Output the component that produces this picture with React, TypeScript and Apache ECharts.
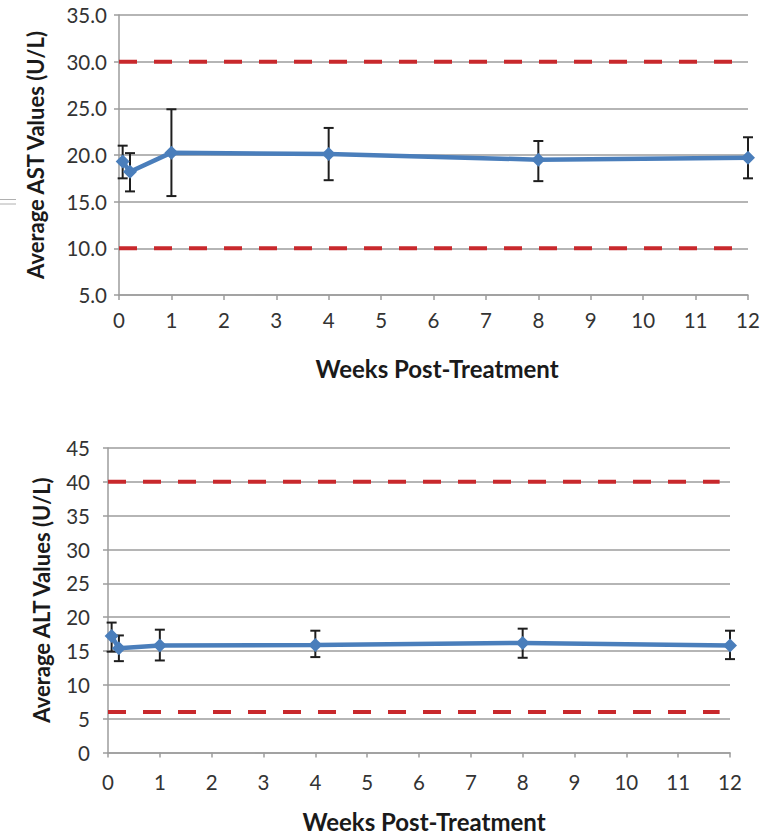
import React, { useEffect, useRef } from 'react';
import * as echarts from 'echarts';

// Weeks post-treatment for each measurement
const weeks = [0.07, 0.21, 1, 4, 8, 12];
// AST (top chart)
const astMean = [19.3, 18.2, 20.25, 20.1, 19.5, 19.7];
const astLow = [17.5, 16.1, 15.6, 17.3, 17.2, 17.5];
const astHigh = [21.0, 20.2, 24.9, 22.9, 21.5, 21.9];
// ALT (bottom chart)
const altMean = [17.2, 15.4, 15.8, 15.9, 16.2, 15.8];
const altLow = [14.9, 13.5, 13.6, 14.1, 14.0, 13.8];
const altHigh = [19.2, 17.3, 18.15, 18.0, 18.3, 18.0];
// Normal-range reference lines
const astRefLines = [30, 10];
const altRefLines = [40, 6];
const astRefSpan = [0, 12];
const altRefSpan = [0, 11.8];
// Axis ticks
const xTicks = { min: 0, max: 12, interval: 1 };
const astTicks = { min: 5, max: 35, interval: 5 };
const altTicks = { min: 0, max: 45, interval: 5 };

const GREY = '#9d9d9d';
const RED = '#c8282c';
const BLUE = '#4a7ebb';
const LABEL = '#333333';
const FONT = 'Lato';

function errorSeries(xAxisIndex: number, low: number[], high: number[]) {
  return {
    type: 'custom',
    xAxisIndex,
    yAxisIndex: xAxisIndex,
    z: 3,
    encode: { x: 0, y: [1, 2] },
    data: weeks.map((w, i) => [w, low[i], high[i]]),
    renderItem: (params: any, api: any) => {
      const x = api.value(0);
      const pLo = api.coord([x, api.value(1)]);
      const pHi = api.coord([x, api.value(2)]);
      const w = 5;
      const style = { stroke: '#1e1e1e', lineWidth: 2 };
      return {
        type: 'group',
        children: [
          { type: 'line', shape: { x1: pLo[0], y1: pLo[1], x2: pHi[0], y2: pHi[1] }, style },
          { type: 'line', shape: { x1: pLo[0] - w, y1: pLo[1], x2: pLo[0] + w, y2: pLo[1] }, style },
          { type: 'line', shape: { x1: pHi[0] - w, y1: pHi[1], x2: pHi[0] + w, y2: pHi[1] }, style },
        ],
      };
    },
  };
}

function refSeries(idx: number, values: number[], span: number[]) {
  return values.map((v) => ({
    type: 'line',
    xAxisIndex: idx,
    yAxisIndex: idx,
    z: 2,
    symbol: 'none',
    silent: true,
    data: span.map((s) => [s, v]),
    lineStyle: { color: RED, width: 4, type: [18, 17] },
  }));
}

function meanSeries(idx: number, mean: number[]) {
  return {
    type: 'line',
    xAxisIndex: idx,
    yAxisIndex: idx,
    z: 4,
    symbol: 'diamond',
    symbolSize: 14,
    data: weeks.map((w, i) => [w, mean[i]]),
    itemStyle: { color: BLUE },
    lineStyle: { color: BLUE, width: 4.5 },
  };
}

function xAxis(idx: number, margin: number) {
  return {
    type: 'value',
    gridIndex: idx,
    ...xTicks,
    axisLine: { show: true, lineStyle: { color: GREY, width: 1.5 } },
    axisTick: { show: true, length: 5, lineStyle: { color: GREY, width: 1.5 } },
    axisLabel: { fontFamily: FONT, fontSize: 20.5, color: LABEL, margin },
    splitLine: { show: false },
  };
}

function yAxis(idx: number, ticks: any, margin: number, decimals: number) {
  return {
    type: 'value',
    gridIndex: idx,
    ...ticks,
    axisLine: { show: true, lineStyle: { color: GREY, width: 1.5 } },
    axisTick: { show: true, length: 5, lineStyle: { color: GREY, width: 1.5 } },
    axisLabel: {
      fontFamily: FONT,
      fontSize: 20.5,
      color: LABEL,
      margin,
      formatter: (v: number) => v.toFixed(decimals),
    },
    splitLine: { show: true, lineStyle: { color: GREY, width: 1.5 } },
  };
}

export default function App() {
  const ref = useRef<HTMLDivElement>(null);
  useEffect(() => {
    document.body.style.margin = '0';
    const chart = echarts.init(ref.current!, undefined, { renderer: 'svg' });
    const yTitleStyle = { fontFamily: FONT, fontSize: 22, fontWeight: 'bold', fill: '#1a1a1a' };
    const xTitleStyle = { fontFamily: FONT, fontSize: 24, fontWeight: 'bold', fill: '#1a1a1a' };
    chart.setOption({
      animation: false,
      backgroundColor: '#ffffff',
      grid: [
        { left: 119, top: 15, width: 629, height: 280 },
        { left: 108, top: 448, width: 622, height: 304.5 },
      ],
      xAxis: [xAxis(0, 14), xAxis(1, 19)],
      yAxis: [yAxis(0, astTicks, 12, 1), yAxis(1, altTicks, 18, 0)],
      series: [
        ...refSeries(0, astRefLines, astRefSpan),
        errorSeries(0, astLow, astHigh),
        meanSeries(0, astMean),
        ...refSeries(1, altRefLines, altRefSpan),
        errorSeries(1, altLow, altHigh),
        meanSeries(1, altMean),
      ],
      graphic: [
        {
          type: 'text',
          x: 35,
          y: 155,
          rotation: Math.PI / 2,
          style: { ...yTitleStyle, text: 'Average AST Values (U/L)', align: 'center', verticalAlign: 'middle' },
        },
        {
          type: 'text',
          x: 41,
          y: 600,
          rotation: Math.PI / 2,
          style: { ...yTitleStyle, text: 'Average ALT Values (U/L)', align: 'center', verticalAlign: 'middle' },
        },
        {
          type: 'text',
          x: 437,
          y: 368,
          style: { ...xTitleStyle, text: 'Weeks Post-Treatment', align: 'center', verticalAlign: 'middle' },
        },
        {
          type: 'text',
          x: 424,
          y: 821,
          style: { ...xTitleStyle, text: 'Weeks Post-Treatment', align: 'center', verticalAlign: 'middle' },
        },
        { type: 'line', shape: { x1: 0, y1: 199.5, x2: 16, y2: 199.5 }, style: { stroke: '#b0b0b0', lineWidth: 1 } },
        { type: 'line', shape: { x1: 0, y1: 204, x2: 16, y2: 204 }, style: { stroke: '#b0b0b0', lineWidth: 1 } },
      ],
    });
    return () => chart.dispose();
  }, []);
  return <div ref={ref} style={{ width: 777, height: 837 }} />;
}
